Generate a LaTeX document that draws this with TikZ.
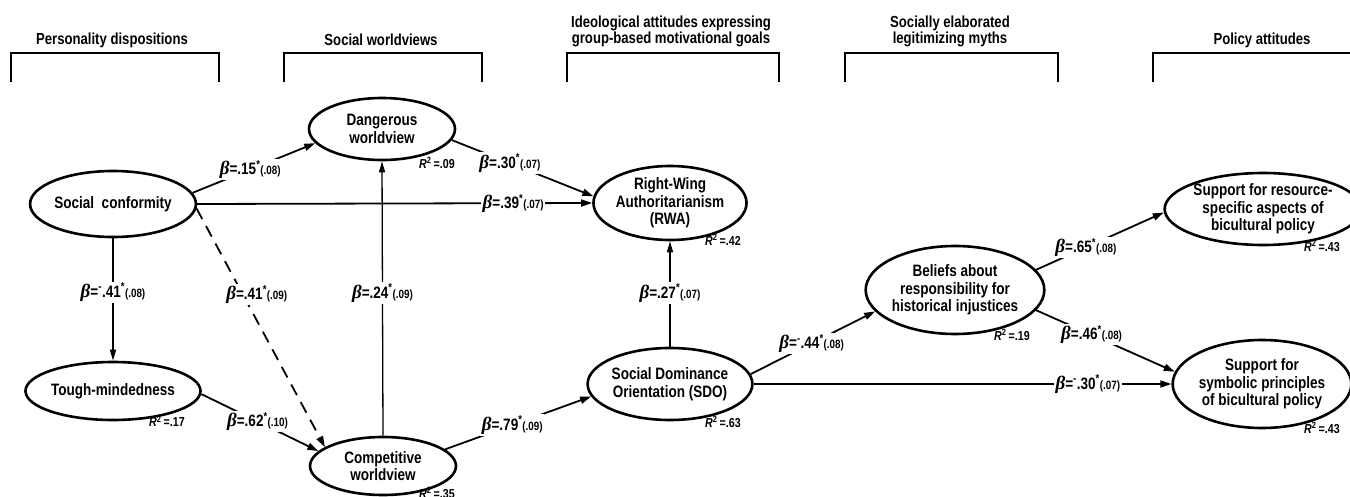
\documentclass[tikz,border=0pt]{standalone}
\usepackage{fontspec}
\setmainfont{Liberation Sans}[FakeStretch=0.82]
\newfontfamily\betafont{Liberation Serif}
\usetikzlibrary{shapes.geometric,arrows.meta}
\newcommand{\bcoef}[2]{{\betafont\bfseries\itshape\fontsize{19}{19}\selectfont β}{\fontsize{16.5}{16.5}\selectfont =#1\textsuperscript{*}}{\fontsize{12}{12}\selectfont(#2)}}
\newcommand{\rsq}[1]{{\itshape R}\textsuperscript{2}\,=#1}
\begin{document}
\begin{tikzpicture}[x=1pt,y=-1pt,
  font=\bfseries\fontsize{16.5}{17.5}\selectfont,
  lat/.style={ellipse, draw, line width=2.6pt, inner sep=0pt, align=center},
  conn/.style={line width=1.8pt, -{Triangle[length=11pt,width=7pt]}},
  thinconn/.style={line width=1.3pt, -{Triangle[length=11pt,width=6pt]}},
  coef/.style={fill=white, inner sep=1.5pt},
  rlab/.style={font=\bfseries\fontsize{13}{13}\selectfont},
  hdr/.style={align=center, font=\bfseries\fontsize{16}{16}\selectfont},
  brk/.style={line width=1.6pt}]
\useasboundingbox (0,0) rectangle (1350,497);
% headers
\node[hdr] (h1) at (112,40) {Personality dispositions};
\node[hdr] (h2) at (381,40) {Social worldviews};
\node[hdr] (h3) at (671,31) {Ideological attitudes expressing\\group-based motivational goals};
\node[hdr] (h4) at (950,31) {Socially elaborated\\legitimizing myths};
\node[hdr] (h5) at (1262,40) {Policy attitudes};
\draw[brk] (11,82) -- (11,53) -- (219,53) -- (219,82);
\draw[brk] (284,82) -- (284,53) -- (482,53) -- (482,82);
\draw[brk] (567,82) -- (567,53) -- (779,53) -- (779,82);
\draw[brk] (845,82) -- (845,53) -- (1058,53) -- (1058,82);
\draw[brk] (1153,82) -- (1153,53) -- (1360,53) -- (1360,82);
% latent variables
\node[lat, minimum width=148pt, minimum height=66pt] (sc) at (113,204) {Social\ \ conformity};
\node[lat, minimum width=148pt, minimum height=58pt] (tm) at (113,391) {Tough-mindedness};
\node[lat, minimum width=146pt, minimum height=62pt] (dw) at (382,129) {Dangerous\\worldview};
\node[lat, minimum width=146pt, minimum height=58pt] (cw) at (383,466) {Competitive\\worldview};
\node[lat, minimum width=148pt, minimum height=74pt] (rwa) at (670,203) {Right-Wing\\Authoritarianism\\(RWA)};
\node[lat, minimum width=146pt, minimum height=72pt] (sdo) at (670,384) {Social Dominance\\Orientation (SDO)};
\node[lat, minimum width=156pt, minimum height=88pt] (bel) at (955,290) {Beliefs about\\responsibility for\\historical injustices};
\node[lat, minimum width=160pt, minimum height=72pt] (res) at (1263,209) {Support for resource-\\specific aspects of\\bicultural policy};
\node[lat, minimum width=160pt, minimum height=88pt] (sym) at (1262,384) {Support for\\symbolic principles\\of bicultural policy};
% R squared
\node[rlab] (r1) at (437,163) {\rsq{.09}};
\node[rlab] (r2) at (723,240) {\rsq{.42}};
\node[rlab] (r3) at (167,421) {\rsq{.17}};
\node[rlab] (r4) at (437,493) {\rsq{.35}};
\node[rlab] (r5) at (723,422) {\rsq{.63}};
\node[rlab] (r6) at (1012,335) {\rsq{.19}};
\node[rlab] (r7) at (1322,246) {\rsq{.43}};
\node[rlab] (r8) at (1322,428) {\rsq{.43}};
% paths
\draw[thinconn] (sc.south) -- node[coef, pos=.44] {\bcoef{\textsuperscript{-}.41}{.08}} (tm.north);
\draw[thinconn] (cw.north) -- node[coef, pos=.52] {\bcoef{.24}{.09}} (dw.south);
\draw[thinconn] (sdo.north) -- node[coef, pos=.51] {\bcoef{.27}{.07}} (rwa.south);
\draw[conn] (sc.east) -- node[coef, pos=.80] {\bcoef{.39}{.07}} (rwa.west);
\draw[conn] (sc.8) -- node[coef, pos=.47] {\bcoef{.15}{.08}} (dw.192);
\draw[conn] (dw.351) -- node[coef, pos=.41] {\bcoef{.30}{.07}} (rwa.175);
\draw[conn, dash pattern=on 12pt off 8pt] (sc.-3) -- node[coef, pos=.36, xshift=14pt] {\bcoef{.41}{.09}} (cw.162);
\draw[conn] (tm.-2) -- node[coef, pos=.48] {\bcoef{.62}{.10}} (cw.167);
\draw[conn] (cw.15) -- node[coef, pos=.46] {\bcoef{.79}{.09}} (sdo.189);
\draw[conn] (sdo.7) -- node[coef, pos=.49] {\bcoef{\textsuperscript{-}.44}{.08}} (bel.195);
\draw[conn] (sdo.east) -- node[coef, pos=.80] {\bcoef{\textsuperscript{-}.30}{.07}} (sym.west);
\draw[conn] (bel.14) -- node[coef, pos=.39] {\bcoef{.65}{.08}} (res.182);
\draw[conn] (bel.-14) -- node[coef, pos=.40] {\bcoef{.46}{.08}} (sym.172);
\end{tikzpicture}
\end{document}
